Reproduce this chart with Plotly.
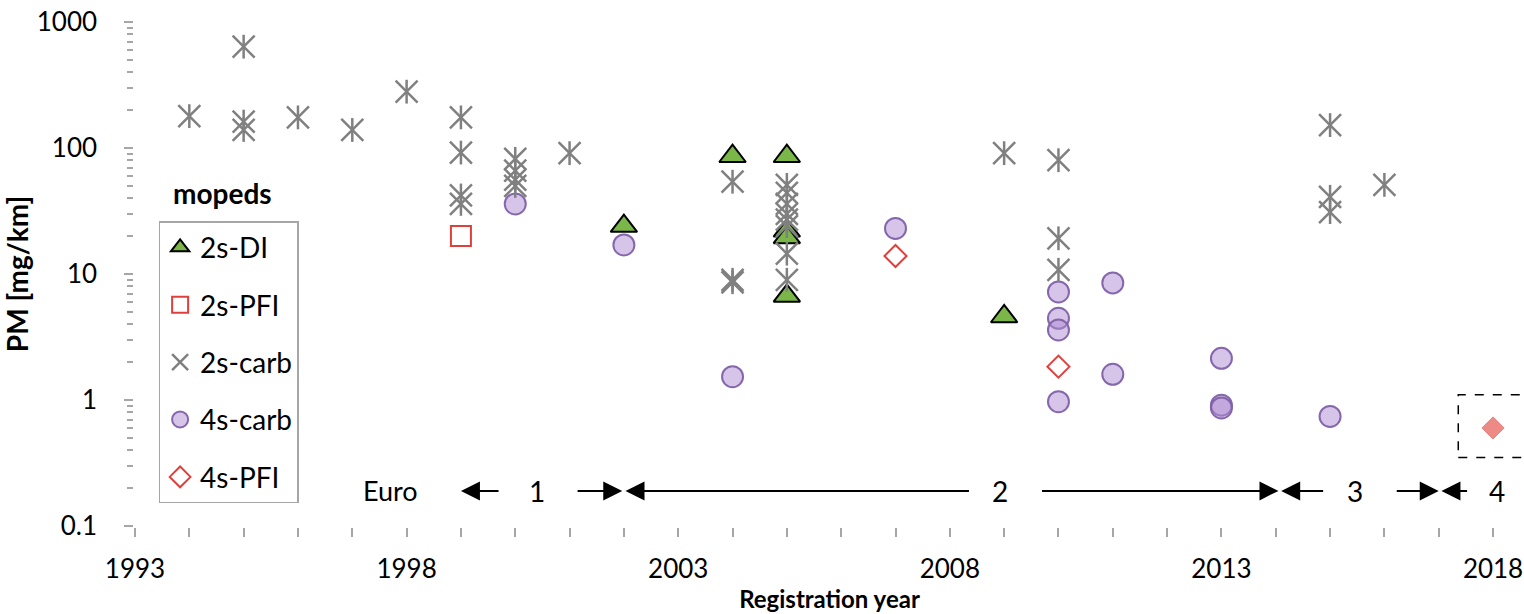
import math
import plotly.graph_objects as go

# ---------------- data ----------------
di2_x = [2002, 2004, 2005, 2005, 2005, 2005, 2009]
di2_y = [24, 86, 86, 22, 19.5, 6.7, 4.6]

pfi2_x = [1999]
pfi2_y = [20]

carb2_x = [1994, 1995, 1995, 1995, 1996, 1997, 1998, 1999, 1999, 1999, 1999,
           2000, 2000, 2000, 2000, 2001, 2004, 2004, 2004,
           2005, 2005, 2005, 2005, 2005, 2005, 2005, 2005,
           2009, 2010, 2010, 2010, 2015, 2015, 2015, 2016]
carb2_y = [179, 637, 162, 139, 175, 139, 280, 175, 92, 42, 36,
           82, 66, 56, 50, 91, 54, 9.0, 8.6,
           51, 44, 36, 30, 27, 24, 14.5, 9.0,
           91, 80, 19.2, 10.8, 152, 41, 31, 51]

carb4_x = [2000, 2002, 2004, 2007, 2010, 2010, 2010, 2010, 2011, 2011, 2013, 2013, 2013, 2015]
carb4_y = [36, 17, 1.53, 23, 7.2, 4.45, 3.6, 0.97, 8.5, 1.6, 2.14, 0.91, 0.865, 0.74]

pfi4_x = [2007, 2010]
pfi4_y = [13.9, 1.84]

future_x = [2018]
future_y = [0.6]

y_tickvals = [0.1, 1, 10, 100, 1000]
y_ticktext = ["0.1", "1", "10", "100", "1000"]

# Euro class periods
euro_level = 0.19
euro_arrows = [(1999.72, 1999.0), (2001.12, 2001.97), (2008.38, 2002.03),
               (2009.67, 2014.05), (2014.9, 2014.1), (2016.2, 2017.0), (2017.55, 2017.05)]
euro_labels = ["Euro", "1", "2", "3", "4"]
euro_label_x = [1997.7, 2000.4, 2008.93, 2015.45, 2018.08]

box_x = [2017.36, 2020.0]
box_y = [0.35, 1.1]

FONT = "Lato"
GRAY_AX = "#a6a6a6"

fig = go.Figure()

fig.add_trace(go.Scatter(
    x=di2_x, y=di2_y, mode="markers", name="2s-DI", legendgroup="a",
    marker=dict(symbol="triangle-up", size=23, color="#7ab648",
                line=dict(color="black", width=2)),
    zorder=2))
fig.add_trace(go.Scatter(
    x=pfi2_x, y=pfi2_y, mode="markers", name="2s-PFI", legendgroup="b",
    marker=dict(symbol="square-open", size=20, color="#e0403c",
                line=dict(color="#e0403c", width=2)),
    zorder=4))
fig.add_trace(go.Scatter(
    x=carb2_x, y=carb2_y, mode="markers", name="2s-carb", legendgroup="c",
    marker=dict(symbol="x-thin-open", size=22, color="#808080",
                line=dict(color="#808080", width=2.5)),
    zorder=3))
fig.add_trace(go.Scatter(
    x=carb2_x, y=carb2_y, mode="markers", name="2s-carb", legendgroup="c",
    showlegend=False,
    marker=dict(symbol="line-ns-open", size=17, color="#808080",
                line=dict(color="#808080", width=2.5)),
    zorder=3))
fig.add_trace(go.Scatter(
    x=carb4_x, y=carb4_y, mode="markers", name="4s-carb", legendgroup="d",
    marker=dict(symbol="circle", size=21, color="rgba(175,140,212,0.5)",
                line=dict(color="rgba(128,96,168,0.95)", width=2)),
    zorder=1))
fig.add_trace(go.Scatter(
    x=pfi4_x, y=pfi4_y, mode="markers", name="4s-PFI", legendgroup="e",
    marker=dict(symbol="diamond-open", size=17, color="#e0403c",
                line=dict(color="#e0403c", width=2)),
    zorder=4))
fig.add_trace(go.Scatter(
    x=future_x, y=future_y, mode="markers", name="4s-PFI (Euro 4)", legendgroup="f",
    showlegend=False,
    marker=dict(symbol="diamond", size=17, color="#ee8a86",
                line=dict(color="#e8807c", width=1)),
    zorder=4))

ly = math.log10(euro_level)
annotations = []
for tail, head in euro_arrows:
    annotations.append(dict(
        x=head, y=ly, ax=tail, ay=ly, xref="x", yref="y", axref="x", ayref="y",
        text="", showarrow=True, arrowhead=2, arrowsize=1.9, arrowwidth=2,
        arrowcolor="black", standoff=0, startstandoff=0))
for lab, lx in zip(euro_labels, euro_label_x):
    annotations.append(dict(
        x=lx, y=ly, xref="x", yref="y", text=lab, showarrow=False,
        font=dict(family=FONT, size=27 if lab == "Euro" else 28, color="black"),
        xanchor="center", yanchor="middle"))
annotations.append(dict(
    x=0.026, y=0.661, xref="paper", yref="paper", text="<b>mopeds</b>",
    showarrow=False, xanchor="left", yanchor="middle",
    font=dict(family=FONT, size=28, color="black")))

# dashed frame around the Euro 4 measurement (shape positions are data values)
fig.add_shape(type="rect", xref="x", yref="y",
              x0=box_x[0], x1=box_x[1], y0=box_y[0], y1=box_y[1],
              line=dict(color="black", width=1.5, dash="dash"))

fig.update_layout(
    width=1524, height=614,
    margin=dict(l=135, r=0, t=22, b=88),
    plot_bgcolor="white", paper_bgcolor="white",
    font=dict(family=FONT, color="black", size=26),
    showlegend=True,
    legend=dict(x=0.017, y=0.605, xanchor="left", yanchor="top",
                bgcolor="white", bordercolor=GRAY_AX, borderwidth=1.5,
                font=dict(family=FONT, size=28, color="black"),
                traceorder="grouped", tracegroupgap=18, itemwidth=30),
    annotations=annotations,
    xaxis=dict(
        range=[1993, 2018.57], tickmode="linear", tick0=1993, dtick=5,
        ticks="outside", ticklen=9, tickcolor=GRAY_AX, tickwidth=1.5,
        showline=True, linecolor=GRAY_AX, linewidth=1.5,
        showgrid=False, zeroline=False,
        minor=dict(dtick=1, tick0=1993, ticks="outside", ticklen=9,
                   tickcolor=GRAY_AX, tickwidth=1.5, showgrid=False),
        tickfont=dict(family=FONT, size=26, color="black"),
        ticklabelstandoff=10,
        title=dict(text="<b>Registration year</b>", standoff=8,
                   font=dict(family=FONT, size=24, color="black")),
    ),
    yaxis=dict(
        type="log", range=[-1, 3], tickmode="array",
        tickvals=y_tickvals, ticktext=y_ticktext,
        ticks="outside", ticklen=9, tickcolor=GRAY_AX, tickwidth=1.5,
        showline=True, linecolor=GRAY_AX, linewidth=1.5,
        showgrid=False, zeroline=False,
        minor=dict(tickvals=[m * 10 ** e for e in range(-1, 3) for m in range(2, 10)],
                   ticks="outside", ticklen=6, tickcolor=GRAY_AX, tickwidth=1.5,
                   showgrid=False),
        tickfont=dict(family=FONT, size=26, color="black"),
        ticklabelstandoff=22,
        title=dict(text="<b>PM [mg/km]</b>", standoff=6,
                   font=dict(family=FONT, size=28, color="black")),
    ),
)

fig.write_html("out.html")
